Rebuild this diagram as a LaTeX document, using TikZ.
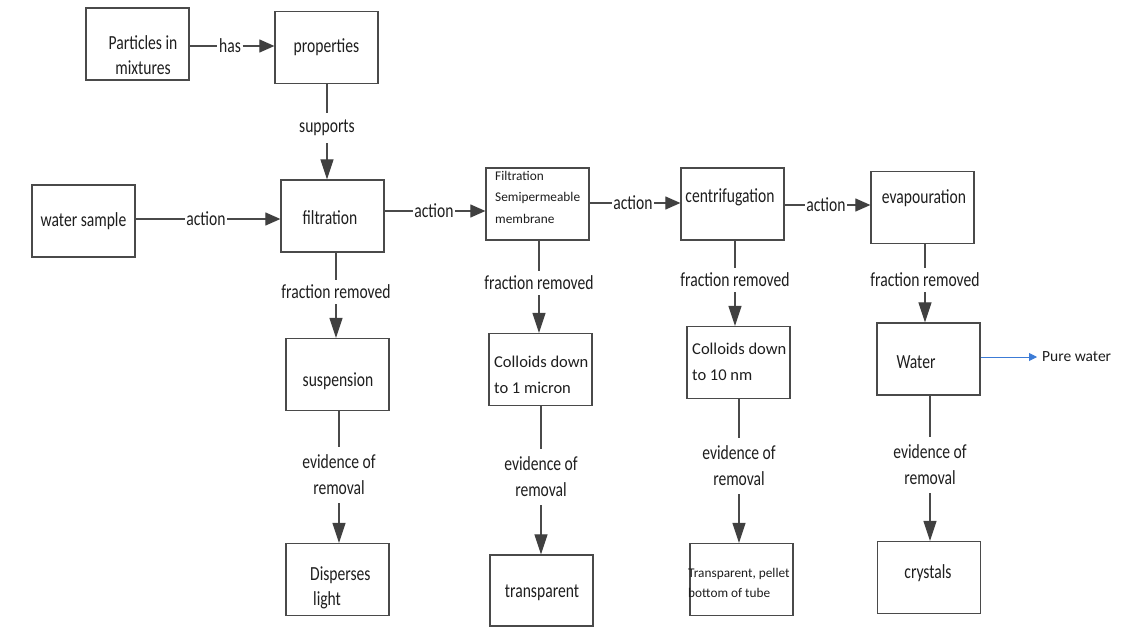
\documentclass[tikz,border=0pt]{standalone}
\usepackage{fontspec}
\setmainfont{Carlito}
\newfontfamily\condfont[FakeStretch=0.78]{Carlito}
\usetikzlibrary{arrows.meta}
\definecolor{edge}{HTML}{4A4A4A}
\definecolor{headc}{HTML}{404040}
\definecolor{ink}{HTML}{1E1E1E}
\definecolor{bluelink}{HTML}{3C7BD6}
\begin{document}
\begin{tikzpicture}[x=1pt,y=-1pt,
  box/.style={draw=edge, line width=1.3pt, minimum width=103pt, minimum height=72pt, inner sep=0pt,
    text=ink, font=\condfont\fontsize{20}{25}\selectfont},
  txt/.style={inner sep=0pt, text=ink, font=\condfont\fontsize{20}{25}\selectfont},
  lab/.style={inner xsep=1.5pt, inner ysep=5pt, text=ink, align=center,
    font=\condfont\fontsize{20}{26}\selectfont},
  ln/.style={draw=edge, line width=1.2pt},
  harr/.style={ln, -{Triangle[length=15pt,width=13pt,fill=headc,color=headc]}},
  varr/.style={ln, -{Triangle[length=20pt,width=13pt,fill=headc,color=headc]}},
  barr/.style={draw=bluelink, line width=0.9pt, -{Triangle[length=8pt,width=8pt]}}
]
\useasboundingbox[fill=white] (0,0) rectangle (1136,627);

% top row
\node[box] (part) at (137.5,44) {};
\node[txt, align=center] (partT) at (143,55) {Particles in\\mixtures};
\node[box] (prop) at (326.5,47.5) {properties};

% process row
\node[box] (water) at (83.5,221) {water sample};
\node[box] (filt) at (332.5,216) {};
\node[txt] (filtT) at (330,218) {filtration};
\node[box] (fsm) at (537.5,204) {};
\node[anchor=west, inner sep=0pt, text=ink, align=left, font=\fontsize{13.3}{21.5}\selectfont] (fsmT) at (495,197)
  {Filtration\\Semipermeable\\membrane};
\node[box] (cent) at (732.5,204) {};
\node[txt] (centT) at (730,197) {centrifugation};
\node[box] (evap) at (922.5,207.5) {};
\node[txt] (evapT) at (924,198) {evapouration};

% removed fractions
\node[box] (susp) at (337.5,374.5) {};
\node[txt] (suspT) at (338,381) {suspension};
\node[box] (coll1) at (540.5,369.5) {};
\node[anchor=west, inner sep=0pt, text=ink, align=left, font=\fontsize{16.5}{26}\selectfont] (coll1T) at (494,375)
  {Colloids down\\to 1 micron};
\node[box] (coll2) at (738.5,362.5) {};
\node[anchor=west, inner sep=0pt, text=ink, align=left, font=\fontsize{16.5}{26}\selectfont] (coll2T) at (692,362)
  {Colloids down\\to 10 nm};
\node[box] (wat) at (928.5,359) {};
\node[txt] (watT) at (916,362) {Water};

% evidence
\node[box] (disp) at (337.5,579.5) {};
\node[txt, anchor=west, align=left] (dispT) at (310,588) {Disperses\\\hspace*{3pt}light};
\node[box, minimum height=71pt] (trans) at (541.5,590.5) {};
\node[txt] (transT) at (542,593) {transparent};
\node[box] (pell) at (741.5,579.5) {};
\node[anchor=west, inner sep=0pt, text=ink, align=left, font=\fontsize{13.3}{20}\selectfont] (pellT) at (688,583)
  {Transparent, pellet\\bottom of tube};
\node[box] (cryst) at (929,577.5) {};
\node[txt] (crystT) at (928,573) {crystals};

% link labels
\node[lab] (has) at (230,46) {has};
\node[lab, inner ysep=7pt] (sup) at (327,128) {supports};
\node[lab] (act1) at (206,219) {action};
\node[lab] (act2) at (434,211) {action};
\node[lab] (act3) at (633,203) {action};
\node[lab] (act4) at (826,205) {action};
\node[lab] (fr1) at (336,292) {fraction removed};
\node[lab] (fr2) at (539,283) {fraction removed};
\node[lab] (fr3) at (735,280) {fraction removed};
\node[lab] (fr4) at (925,280) {fraction removed};
\node[lab, inner ysep=8pt] (ev1) at (339,475) {evidence of\\removal};
\node[lab, inner ysep=8pt] (ev2) at (541,477) {evidence of\\removal};
\node[lab, inner ysep=8pt] (ev3) at (739,466) {evidence of\\removal};
\node[lab, inner ysep=8pt] (ev4) at (930,465) {evidence of\\removal};
\node[anchor=west, inner xsep=5pt, inner ysep=0pt, text=ink, font=\fontsize{15.5}{18}\selectfont] (pure) at (1037,357) {Pure water};

% horizontal links
\draw[ln] (part.east |- has) -- (has.west);
\draw[harr] (has.east) -- (has.east -| prop.west);
\draw[ln] (water.east |- act1) -- (act1.west);
\draw[harr] (act1.east) -- (act1.east -| filt.west);
\draw[ln] (filt.east |- act2) -- (act2.west);
\draw[harr] (act2.east) -- (act2.east -| fsm.west);
\draw[ln] (fsm.east |- act3) -- (act3.west);
\draw[harr] (act3.east) -- (act3.east -| cent.west);
\draw[ln] (cent.east |- act4) -- (act4.west);
\draw[harr] (act4.east) -- (act4.east -| evap.west);
\draw[barr] (wat.east |- pure) -- (pure.west);

% vertical links
\draw[ln] (prop.south -| sup) -- (sup.north);
\draw[varr] (sup.south) -- (sup.south |- filt.north);
\draw[ln] (filt.south -| fr1) -- (fr1.north);
\draw[varr] (fr1.south) -- (fr1.south |- susp.north);
\draw[ln] (fsm.south -| fr2) -- (fr2.north);
\draw[varr] (fr2.south) -- (fr2.south |- coll1.north);
\draw[ln] (cent.south -| fr3) -- (fr3.north);
\draw[varr] (fr3.south) -- (fr3.south |- coll2.north);
\draw[ln] (evap.south -| fr4) -- (fr4.north);
\draw[varr] (fr4.south) -- (fr4.south |- wat.north);
\draw[ln] (susp.south -| ev1) -- (ev1.north);
\draw[varr] (ev1.south) -- (ev1.south |- disp.north);
\draw[ln] (coll1.south -| ev2) -- (ev2.north);
\draw[varr] (ev2.south) -- (ev2.south |- trans.north);
\draw[ln] (coll2.south -| ev3) -- (ev3.north);
\draw[varr] (ev3.south) -- (ev3.south |- pell.north);
\draw[ln] (wat.south -| ev4) -- (ev4.north);
\draw[varr] (ev4.south) -- (ev4.south |- cryst.north);
\end{tikzpicture}
\end{document}
